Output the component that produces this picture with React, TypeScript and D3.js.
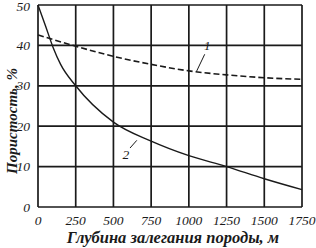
import * as d3 from 'd3';
import React, { useEffect, useRef } from 'react';

const depthTicks = [0, 250, 500, 750, 1000, 1250, 1500, 1750];
const porosityTicks = [0, 10, 20, 30, 40, 50];

// curve 1 (dashed)
const depths1 = [0, 250, 500, 750, 1000, 1250, 1500, 1750];
const values1 = [42.6, 39.8, 37.3, 35.3, 33.7, 32.7, 32.0, 31.6];

// curve 2 (solid)
const depths2 = [0, 50, 100, 150, 250, 500, 750, 1000, 1250, 1500, 1750];
const values2 = [50, 44.8, 39.5, 35.3, 30, 21, 16.3, 12.7, 10, 7, 4.3];

const xLabel = 'Глубина залегания породы, м';
const yLabel = 'Пористость, %';

export default function App() {
  const ref = useRef<SVGSVGElement>(null);

  useEffect(() => {
    const svg = d3.select(ref.current);
    svg.selectAll('*').remove();
    const color = '#1a1a1a';
    const font = '"Liberation Serif", "Times New Roman", serif';

    const x = d3.scaleLinear().domain([0, 1750]).range([38, 302]);
    const y = d3.scaleLinear().domain([0, 50]).range([207, 5]);

    const grid = svg.append('g');
    grid
      .selectAll('line.v')
      .data(depthTicks)
      .enter()
      .append('line')
      .attr('x1', (d) => x(d))
      .attr('x2', (d) => x(d))
      .attr('y1', y(0))
      .attr('y2', y(50))
      .attr('stroke', color)
      .attr('stroke-width', 1.7);
    grid
      .selectAll('line.h')
      .data(porosityTicks)
      .enter()
      .append('line')
      .attr('x1', x(0))
      .attr('x2', x(1750))
      .attr('y1', (d) => y(d))
      .attr('y2', (d) => y(d))
      .attr('stroke', color)
      .attr('stroke-width', 1.7);

    svg
      .selectAll('text.xt')
      .data(depthTicks)
      .enter()
      .append('text')
      .attr('x', (d) => x(d))
      .attr('y', 225)
      .attr('text-anchor', 'middle')
      .attr('font-family', font)
      .attr('font-style', 'italic')
      .attr('font-size', 13.5)
      .attr('fill', color)
      .text((d) => d);

    svg
      .selectAll('text.yt')
      .data(porosityTicks)
      .enter()
      .append('text')
      .attr('x', 30)
      .attr('y', (d) => Math.max(y(d) + 4.5, 11))
      .attr('text-anchor', 'end')
      .attr('font-family', font)
      .attr('font-style', 'italic')
      .attr('font-size', 13.5)
      .attr('fill', color)
      .text((d) => d);

    svg
      .append('text')
      .attr('x', 173)
      .attr('y', 243)
      .attr('text-anchor', 'middle')
      .attr('font-family', font)
      .attr('font-style', 'italic')
      .attr('font-weight', 'bold')
      .attr('font-size', 16.5)
      .attr('fill', color)
      .text(xLabel);

    svg
      .append('text')
      .attr('transform', 'translate(17,121) rotate(-90)')
      .attr('text-anchor', 'middle')
      .attr('font-family', font)
      .attr('font-style', 'italic')
      .attr('font-weight', 'bold')
      .attr('font-size', 15)
      .attr('fill', color)
      .text(yLabel);

    const line = d3
      .line<[number, number]>()
      .x((d) => x(d[0]))
      .y((d) => y(d[1]))
      .curve(d3.curveMonotoneX);

    svg
      .append('path')
      .attr('d', line(depths1.map((d, i) => [d, values1[i]]))!)
      .attr('fill', 'none')
      .attr('stroke', color)
      .attr('stroke-width', 1.6)
      .attr('stroke-dasharray', '6,3');

    svg
      .append('path')
      .attr('d', line(depths2.map((d, i) => [d, values2[i]]))!)
      .attr('fill', 'none')
      .attr('stroke', color)
      .attr('stroke-width', 1.4);

    // curve labels with leaders
    svg
      .append('line')
      .attr('x1', x(1050))
      .attr('y1', y(33.5))
      .attr('x2', x(1105))
      .attr('y2', y(37.8))
      .attr('stroke', color)
      .attr('stroke-width', 1);
    svg
      .append('text')
      .attr('x', x(1100))
      .attr('y', y(38.8))
      .attr('font-family', font)
      .attr('font-style', 'italic')
      .attr('font-size', 13)
      .attr('fill', color)
      .text('1');

    svg
      .append('line')
      .attr('x1', x(610))
      .attr('y1', y(14.6))
      .attr('x2', x(655))
      .attr('y2', y(16.5))
      .attr('stroke', color)
      .attr('stroke-width', 1);
    svg
      .append('text')
      .attr('x', x(560))
      .attr('y', y(12))
      .attr('font-family', font)
      .attr('font-style', 'italic')
      .attr('font-size', 13.5)
      .attr('fill', color)
      .text('2');
  }, []);

  return (
    <svg
      ref={ref}
      width={316}
      height={248}
      style={{ position: 'fixed', left: 0, top: 0, background: '#fff' }}
    />
  );
}
